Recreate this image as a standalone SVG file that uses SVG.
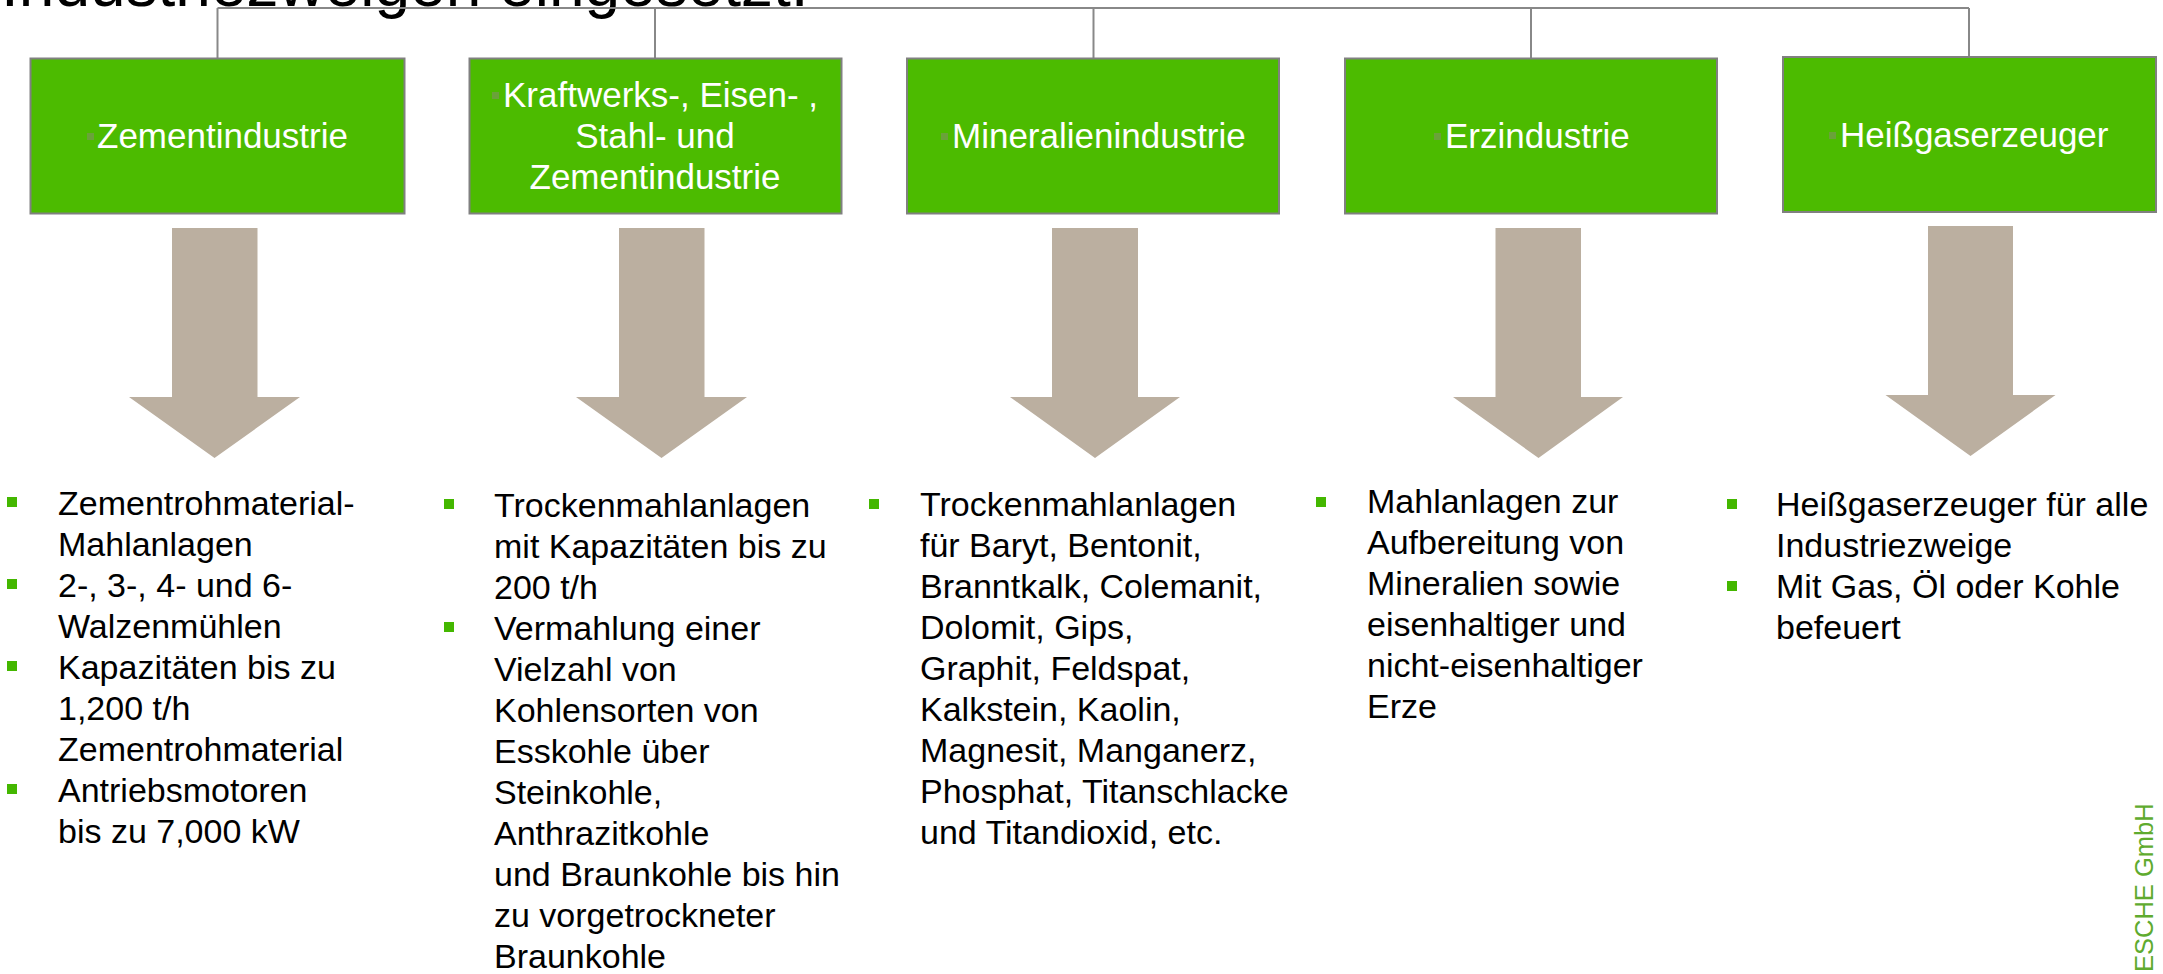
<svg xmlns="http://www.w3.org/2000/svg" width="2163" height="974" viewBox="0 0 2163 974">
<defs>
<style>
.box{fill:#4cbb00;stroke:#808080;stroke-width:2}
.bt{font-family:"Liberation Sans",Arial,sans-serif;font-size:35px;fill:#ffffff}
.bb{fill:#6aa23a}
.arr{fill:#bbafa0}
.tx{font-family:"Liberation Sans",Arial,sans-serif;font-size:34px;fill:#000000}
.bu{fill:#44b700}
.con{fill:none;stroke:#888888;stroke-width:2}
</style>
</defs>
<rect width="2163" height="974" fill="#ffffff"/>
<text x="1" y="6" font-family="Liberation Sans, Arial, sans-serif" font-size="64" fill="#000000">Industriezweigen eingesetzt.</text>
<g id="connectors">
<path class="con" d="M217.5,8 H1969"/>
<path class="con" d="M1531,8 H1969" stroke="#7a7a7a"/>
<path class="con" d="M217.5,8 V58"/>
<path class="con" d="M655,8 V58"/>
<path class="con" d="M1093.5,8 V58"/>
<path class="con" d="M1531,8 V58"/>
<path class="con" d="M1969,8 V56"/>
</g>
<g id="node-zement">
<rect class="box" x="30.5" y="58.5" width="374" height="155"/>
<rect class="bb" x="87" y="133" width="7" height="7"/>
<text class="bt" x="97" y="148">Zementindustrie</text>
</g>
<g id="node-kraftwerk">
<rect class="box" x="469.5" y="58.5" width="372" height="155"/>
<rect class="bb" x="492" y="92" width="7" height="7"/>
<text class="bt" x="503" y="107">Kraftwerks-, Eisen- ,</text>
<text class="bt" x="655" y="148" text-anchor="middle">Stahl- und</text>
<text class="bt" x="655" y="189" text-anchor="middle">Zementindustrie</text>
</g>
<g id="node-mineral">
<rect class="box" x="907" y="58.5" width="372" height="155"/>
<rect class="bb" x="941" y="133" width="7" height="7"/>
<text class="bt" x="952" y="148">Mineralienindustrie</text>
</g>
<g id="node-erz">
<rect class="box" x="1345" y="58.5" width="372" height="155"/>
<rect class="bb" x="1434" y="133" width="7" height="7"/>
<text class="bt" x="1445" y="148">Erzindustrie</text>
</g>
<g id="node-heiss">
<rect class="box" x="1783" y="57" width="373" height="155"/>
<rect class="bb" x="1829" y="132" width="7" height="7"/>
<text class="bt" x="1840" y="147">Heißgaserzeuger</text>
</g>
<g id="arrows">
<polygon class="arr" points="172,228 257.5,228 257.5,397 300,397 214.5,458 129,397 172,397"/>
<polygon class="arr" points="619,228 704.5,228 704.5,397 747,397 661.5,458 576,397 619,397"/>
<polygon class="arr" points="1052,228 1138,228 1138,397 1180,397 1095,458 1010,397 1052,397"/>
<polygon class="arr" points="1495.5,228 1581,228 1581,397 1623,397 1538.5,458 1453,397 1495.5,397"/>
<polygon class="arr" points="1928,226 2013,226 2013,395 2055.5,395 1970.5,456 1885.5,395 1928,395"/>
</g>
<g id="list-zement">
<rect class="bu" x="7" y="497" width="10" height="10"/>
<rect class="bu" x="7" y="579" width="10" height="10"/>
<rect class="bu" x="7" y="661" width="10" height="10"/>
<rect class="bu" x="7" y="784" width="10" height="10"/>
<text class="tx" x="58" y="515">Zementrohmaterial-</text>
<text class="tx" x="58" y="556">Mahlanlagen</text>
<text class="tx" x="58" y="597">2-, 3-, 4- und 6-</text>
<text class="tx" x="58" y="638">Walzenmühlen</text>
<text class="tx" x="58" y="679">Kapazitäten bis zu</text>
<text class="tx" x="58" y="720">1,200 t/h</text>
<text class="tx" x="58" y="761">Zementrohmaterial</text>
<text class="tx" x="58" y="802">Antriebsmotoren</text>
<text class="tx" x="58" y="843">bis zu 7,000 kW</text>
</g>
<g id="list-kraftwerk">
<rect class="bu" x="444" y="499" width="10" height="10"/>
<rect class="bu" x="444" y="622" width="10" height="10"/>
<text class="tx" x="494" y="516.5">Trockenmahlanlagen</text>
<text class="tx" x="494" y="557.5">mit Kapazitäten bis zu</text>
<text class="tx" x="494" y="598.5">200 t/h</text>
<text class="tx" x="494" y="639.5">Vermahlung einer</text>
<text class="tx" x="494" y="680.5">Vielzahl von</text>
<text class="tx" x="494" y="721.5">Kohlensorten von</text>
<text class="tx" x="494" y="762.5">Esskohle über</text>
<text class="tx" x="494" y="803.5">Steinkohle,</text>
<text class="tx" x="494" y="844.5">Anthrazitkohle</text>
<text class="tx" x="494" y="885.5">und Braunkohle bis hin</text>
<text class="tx" x="494" y="926.5">zu vorgetrockneter</text>
<text class="tx" x="494" y="967.5">Braunkohle</text>
</g>
<g id="list-mineral">
<rect class="bu" x="869" y="499" width="10" height="10"/>
<text class="tx" x="920" y="516">Trockenmahlanlagen</text>
<text class="tx" x="920" y="557">für Baryt, Bentonit,</text>
<text class="tx" x="920" y="598">Branntkalk, Colemanit,</text>
<text class="tx" x="920" y="639">Dolomit, Gips,</text>
<text class="tx" x="920" y="680">Graphit, Feldspat,</text>
<text class="tx" x="920" y="721">Kalkstein, Kaolin,</text>
<text class="tx" x="920" y="762">Magnesit, Manganerz,</text>
<text class="tx" x="920" y="803">Phosphat, Titanschlacke</text>
<text class="tx" x="920" y="844">und Titandioxid, etc.</text>
</g>
<g id="list-erz">
<rect class="bu" x="1316" y="497" width="10" height="10"/>
<text class="tx" x="1367" y="513">Mahlanlagen zur</text>
<text class="tx" x="1367" y="554">Aufbereitung von</text>
<text class="tx" x="1367" y="595">Mineralien sowie</text>
<text class="tx" x="1367" y="636">eisenhaltiger und</text>
<text class="tx" x="1367" y="677">nicht-eisenhaltiger</text>
<text class="tx" x="1367" y="718">Erze</text>
</g>
<g id="list-heiss">
<rect class="bu" x="1727" y="499" width="10" height="10"/>
<rect class="bu" x="1727" y="581" width="10" height="10"/>
<text class="tx" x="1776" y="516">Heißgaserzeuger für alle</text>
<text class="tx" x="1776" y="557">Industriezweige</text>
<text class="tx" x="1776" y="598">Mit Gas, Öl oder Kohle</text>
<text class="tx" x="1776" y="639">befeuert</text>
</g>
<text x="2153" y="972" transform="rotate(-90 2153 972)" font-family="Liberation Sans, Arial, sans-serif" font-size="25.5" fill="#5fab2f">ESCHE GmbH</text>
</svg>
